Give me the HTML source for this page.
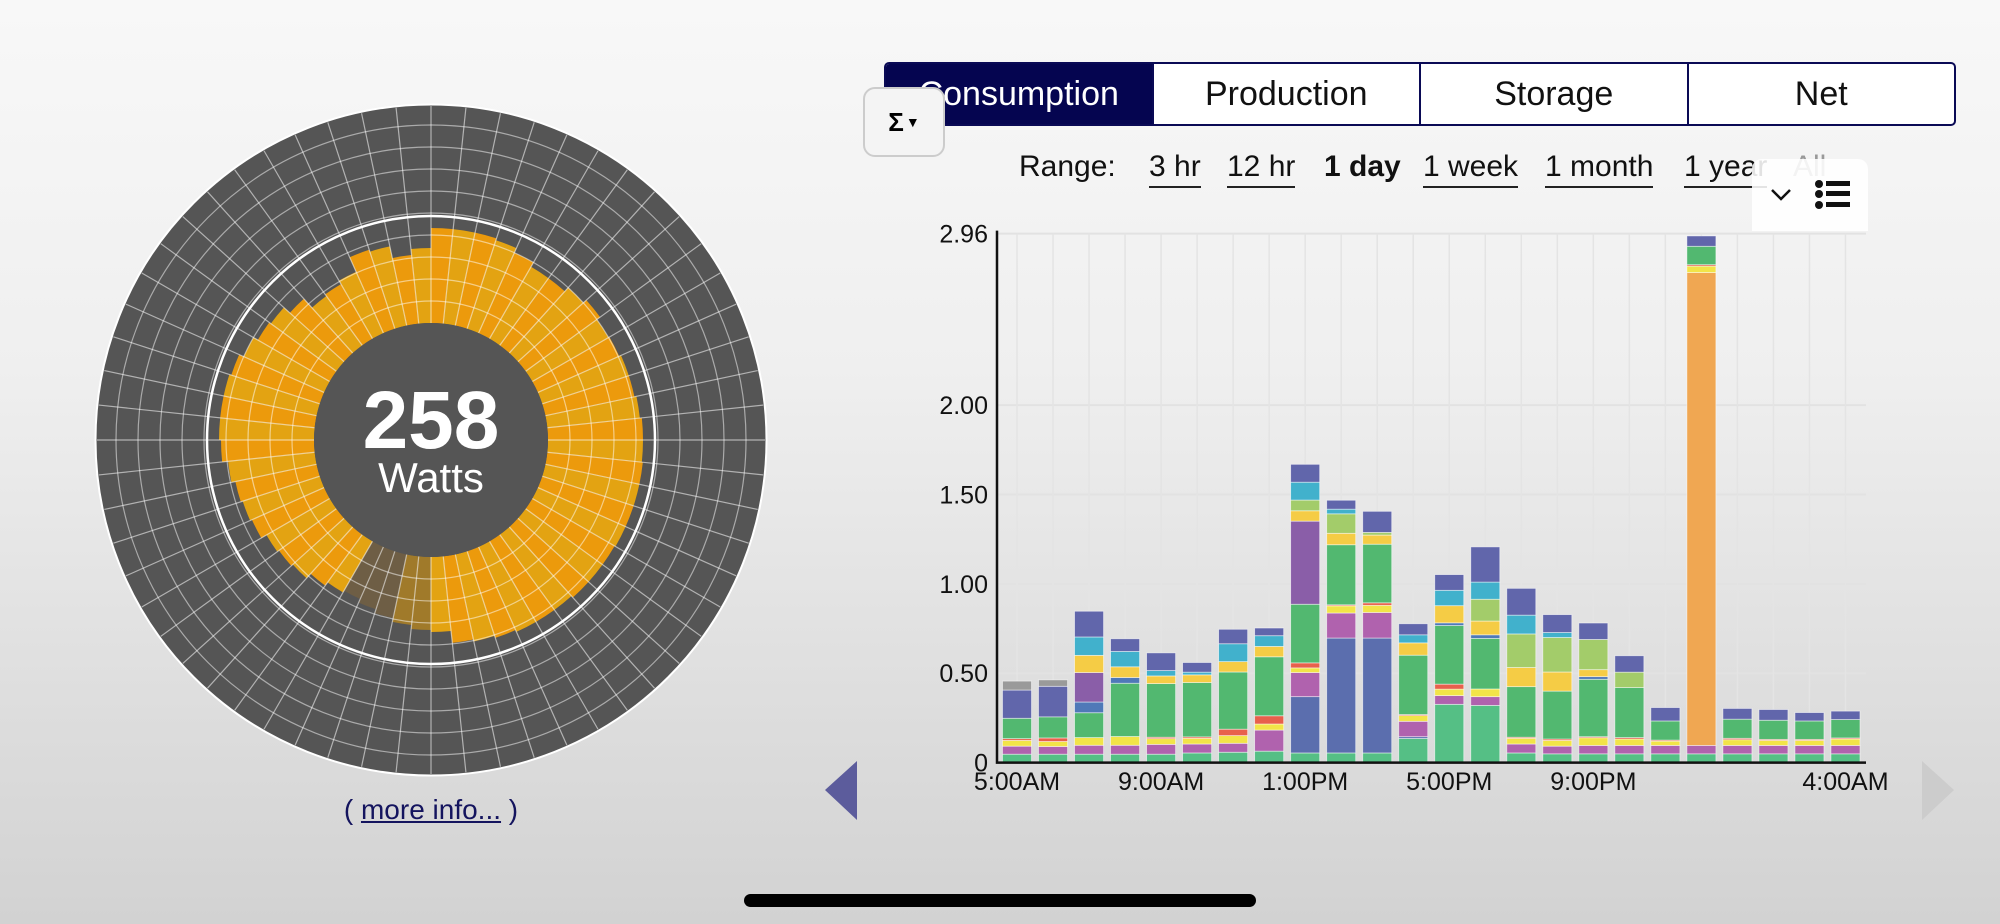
<!DOCTYPE html>
<html><head><meta charset="utf-8">
<style>
html,body{margin:0;padding:0;}
body{width:2000px;height:924px;overflow:hidden;position:relative;background:linear-gradient(#f8f8f8 0%,#efefef 40%,#d2d2d2 100%);font-family:"Liberation Sans",sans-serif;}
.tabs{position:absolute;left:884px;top:62px;width:1068px;height:60px;border:2px solid #0a0a55;border-radius:5px;display:flex;overflow:hidden;background:#fff;}
.tab{flex:1;display:flex;align-items:center;justify-content:center;font-size:34px;color:#111;border-left:2px solid #0a0a55;}
.tab:first-child{border-left:none;background:#050550;color:#fff;}
.sigma{position:absolute;left:863px;top:87px;width:78px;height:66px;border:2px solid #ccc;border-radius:12px;background:#f4f4f4;font-size:26px;font-weight:bold;display:flex;align-items:center;justify-content:center;}
.range{position:absolute;top:150px;font-size:30px;color:#111;}
.range a{position:absolute;white-space:nowrap;color:#111;text-decoration:none;border-bottom:2px solid #222;padding-bottom:2px;}
</style></head><body>
<div class="tabs">
<div class="tab">Consumption</div>
<div class="tab">Production</div>
<div class="tab">Storage</div>
<div class="tab">Net</div>
</div>
<div class="sigma">Σ<span style="font-size:14px;margin-left:2px">▼</span></div>
<div class="range">
<span style="position:absolute;left:1019px;white-space:nowrap">Range:</span>
<a style="left:1149px">3 hr</a>
<a style="left:1227px">12 hr</a>
<span style="position:absolute;left:1324px;font-weight:bold;white-space:nowrap">1 day</span>
<a style="left:1423px">1 week</a>
<a style="left:1545px">1 month</a>
<a style="left:1684px">1 year</a>
<span style="position:absolute;left:1793px;color:#999;white-space:nowrap">All</span>
</div>
<div style="position:absolute;left:1752px;top:159px;width:116px;height:72px;background:rgba(255,255,255,0.88);border-radius:10px 10px 0 0">
<svg width="116" height="72" style="position:absolute;left:0;top:0">
<polyline points="20,31 29,40 38,31" fill="none" stroke="#111" stroke-width="2.5"/>
<g fill="#111"><circle cx="67" cy="25" r="4"/><circle cx="67" cy="35" r="4"/><circle cx="67" cy="46" r="4"/><rect x="74" y="22" width="24" height="5"/><rect x="74" y="32" width="24" height="5"/><rect x="74" y="43" width="24" height="5"/></g>
</svg></div>

<svg id="gauge" width="2000" height="924" style="position:absolute;left:0;top:0;pointer-events:none"></svg>
<svg id="chart" width="2000" height="924" style="position:absolute;left:0;top:0"></svg>

<div style="position:absolute;left:291px;top:794px;width:280px;text-align:center;font-size:28px;color:#14145e;white-space:nowrap">( <span style="text-decoration:underline">more info...</span> )</div>
<svg width="2000" height="924" style="position:absolute;left:0;top:0">
<polygon points="857,761 857,820 825,790" fill="#5c5c9c"/>
<polygon points="1922,761 1922,820 1954,790" fill="#cccccc"/>
<rect x="744" y="894" width="512" height="13" rx="6.5" fill="#000"/>
</svg>

<script>
// Gauge data
const gaugeValue = 258;
const gaugeRadii = [212,212,212,210,205,200,200,205,209,205,206,208,208,210,212,212,213,213,213,213,212,212,212,210,210,210,208,206,204,192,190,186,182,178,174,176,180,186,188,190,196,198,200,204,210,212,212,212,210,205,200,198,190,178,180,184,200,198,186,192];
const gaugeHighlight = [30,31,32,33,34];

// Chart data
const categories = ["5:00AM","6:00AM","7:00AM","8:00AM","9:00AM","10:00AM","11:00AM","12:00PM","1:00PM","2:00PM","3:00PM","4:00PM","5:00PM","6:00PM","7:00PM","8:00PM","9:00PM","10:00PM","11:00PM","12:00AM","1:00AM","2:00AM","3:00AM","4:00AM"];
const xTickLabels = ["5:00AM","9:00AM","1:00PM","5:00PM","9:00PM","4:00AM"];
const xTickIndex = [0,4,8,12,16,23];
const yTicks = [0,0.5,1,1.5,2,2.96];
const yTickLabels = ["0","0.50","1.00","1.50","2.00","2.96"];
const seriesNames = ["base","blueLow","magenta","orange","lightYellow","red","green","blueMid","purple","yellowOrange","lightGreen","cyan","indigo","gray"];
const seriesColors = ["#55bf85","#5b6eae","#b062ae","#f0a752","#f2e448","#e8604c","#52b870","#4f79b8","#8a5ea8","#f5cc45","#a3cc6a","#41b1cc","#6166ab","#9a9a9a"];
const base = [.047,.047,.047,.047,.047,.054,.058,.064,.054,.054,.054,.135,.326,.32,.054,.049,.049,.049,.049,.049,.049,.049,.049,.049];
const blueLow = [0,0,0,0,0,0,0,0,.315,.643,.643,.01,0,0,0,0,0,0,0,0,0,0,0,0];
const magenta = [.045,.043,.05,.05,.055,.05,.05,.118,.135,.14,.143,.086,.049,.049,.05,.043,.047,.047,.047,.047,.047,.047,.047,.047];
const orange = [0,0,0,0,0,0,0,0,0,0,0,0,0,0,0,0,0,0,0,2.646,0,0,0,0];
const lightYellow = [.032,.028,.043,.049,.032,.032,.043,.034,.026,.04,.04,.032,.036,.043,.032,.032,.043,.036,.024,.036,.032,.028,.028,.036];
const red = [.01,.02,0,0,.008,.008,.036,.046,.028,.006,.014,.006,.028,0,.006,.008,.006,.008,.006,.008,.008,.006,.006,.006];
const green = [.114,.118,.139,.298,.30,.304,.32,.33,.328,.336,.328,.332,.328,.283,.283,.268,.321,.28,.107,.103,.107,.107,.103,.103];
const blueMid = [0,0,.06,.032,0,0,0,0,0,0,0,0,.015,.02,0,0,.015,0,0,0,0,0,0,0];
const purple = [0,0,.165,0,0,0,0,0,.465,0,0,0,0,0,0,0,0,0,0,0,0,0,0,0];
const yellowOrange = [0,0,.096,.06,.043,.043,.058,.058,.058,.064,.051,.069,.096,.077,.107,.107,.039,0,0,0,0,0,0,0];
const lightGreen = [0,0,0,0,0,0,0,0,.06,.109,.015,0,0,.122,.188,.193,.169,.086,0,0,0,0,0,0];
const cyan = [0,0,.103,.086,.03,.015,.10,.06,.10,.026,0,.045,.086,.096,.105,.028,0,0,0,0,0,0,0,0];
const indigo = [.158,.171,.144,.071,.099,.054,.081,.043,.10,.05,.118,.062,.088,.197,.15,.10,.092,.092,.075,.058,.06,.06,.047,.047];
const gray = [.05,.036,0,0,0,0,0,0,0,0,0,0,0,0,0,0,0,0,0,0,0,0,0,0];
const seriesValues = [base,blueLow,magenta,orange,lightYellow,red,green,blueMid,purple,yellowOrange,lightGreen,cyan,indigo,gray];

const NS = "http://www.w3.org/2000/svg";
function mk(tag, attrs, parent){const e=document.createElementNS(NS,tag);for(const k in attrs)e.setAttribute(k,attrs[k]);parent.appendChild(e);return e;}

// ---- Gauge ----
(function(){
const g = document.getElementById('gauge');
const cx=431, cy=440, rOuter=334, rIn=117, rRing=224, N=gaugeRadii.length;
const outer = mk('circle',{cx:cx,cy:cy,r:rOuter+1.5,fill:'#555555',stroke:'#fff','stroke-width':2},g);


function pt(r,a){return [cx+r*Math.sin(a),cy-r*Math.cos(a)];}
for(let i=0;i<N;i++){
  const a0=i/N*2*Math.PI, a1=(i+1)/N*2*Math.PI, r=gaugeRadii[i];
  const p0=pt(rIn,a0),p1=pt(r,a0),p2=pt(r,a1),p3=pt(rIn,a1);
  const hi = gaugeHighlight.indexOf(i)>=0;
  const col = hi ? (i>=32?'#6e5e45':'#a07a2a') : (i%2? '#e3a312':'#ec9a0c');
  const p = mk('path',{d:`M${p0}L${p1}A${r},${r} 0 0 1 ${p2}L${p3}A${rIn},${rIn} 0 0 0 ${p0}Z`,fill:col},g);
  
  
}
for(let r=rIn+22;r<rOuter;r+=22){
  const c = mk('circle',{cx:cx,cy:cy,r:r,fill:'none',stroke:'rgba(255,255,255,0.5)','stroke-width':1.2},g);
  
  
}
const ring = mk('circle',{cx:cx,cy:cy,r:rRing,fill:'none',stroke:'#fff','stroke-width':2.5},g);


for(let i=0;i<N;i++){
  const a=i/N*2*Math.PI, p0=pt(rIn,a), p1=pt(rOuter,a);
  const l = mk('line',{x1:p0[0],y1:p0[1],x2:p1[0],y2:p1[1],stroke:'rgba(255,255,255,0.55)','stroke-width':1.2},g);
  
  
}
const disc = mk('circle',{cx:cx,cy:cy,r:rIn,fill:'#555555'},g);


const t1 = mk('text',{x:cx,y:cy+8,'text-anchor':'middle','font-size':82,'font-weight':'bold',fill:'#fff','font-family':'Liberation Sans, sans-serif'},g);
t1.textContent = String(gaugeValue);


const t2 = mk('text',{x:cx,y:cy+52,'text-anchor':'middle','font-size':42,fill:'#fff','font-family':'Liberation Sans, sans-serif'},g);
t2.textContent = 'Watts';


})();

// ---- Chart ----
(function(){
const s = document.getElementById('chart');
const left=997, right=1866, y0=762.6, yTop=233.6, yMax=2.96;
const bandStart=999, step=36.02, barW=29;
function y(v){return y0-(v/yMax)*(y0-yTop);}
function xc(i){return bandStart+step*i+step/2;}
const grid = mk('g',{},s);


yTicks.forEach((t,i)=>{
  if(i>0){ mk('line',{x1:left,x2:right,y1:y(t),y2:y(t),stroke:'#e2e2e2','stroke-width':2},grid); }
  const tx = mk('text',{x:988,y:y(t)+9,'text-anchor':'end','font-size':25,fill:'#111','font-family':'Liberation Sans, sans-serif'},s);
  tx.textContent = yTickLabels[i];
  
  
});
categories.forEach((c,i)=>{
  mk('line',{x1:xc(i),x2:xc(i),y1:yTop,y2:y0,stroke:'#e4e4e4','stroke-width':1.5},grid);
});
const bars = mk('g',{},s);


categories.forEach((c,i)=>{
  let acc=0;
  seriesValues.forEach((arr,k)=>{
    const v=arr[i]; if(!v) return;
    const yb=y(acc), yt=Math.max(y(acc+v),yTop);
    acc+=v;
    if(yb<=yTop) return;
    const r = mk('rect',{x:xc(i)-barW/2,y:yt,width:barW,height:Math.max(yb-yt,0.5),fill:seriesColors[k],stroke:'rgba(255,255,255,0.6)','stroke-width':0.8},bars);
    
    
  });
});
const ax = mk('path',{d:`M${left},${yTop-3}L${left},${y0}L${right},${y0}`,fill:'none',stroke:'#111','stroke-width':2.5},s);


xTickIndex.forEach((idx,i)=>{
  const tx = mk('text',{x:xc(idx),y:790,'text-anchor':'middle','font-size':25,fill:'#111','font-family':'Liberation Sans, sans-serif'},s);
  tx.textContent = xTickLabels[i];
  
  
});
})();
</script>
</body></html>
